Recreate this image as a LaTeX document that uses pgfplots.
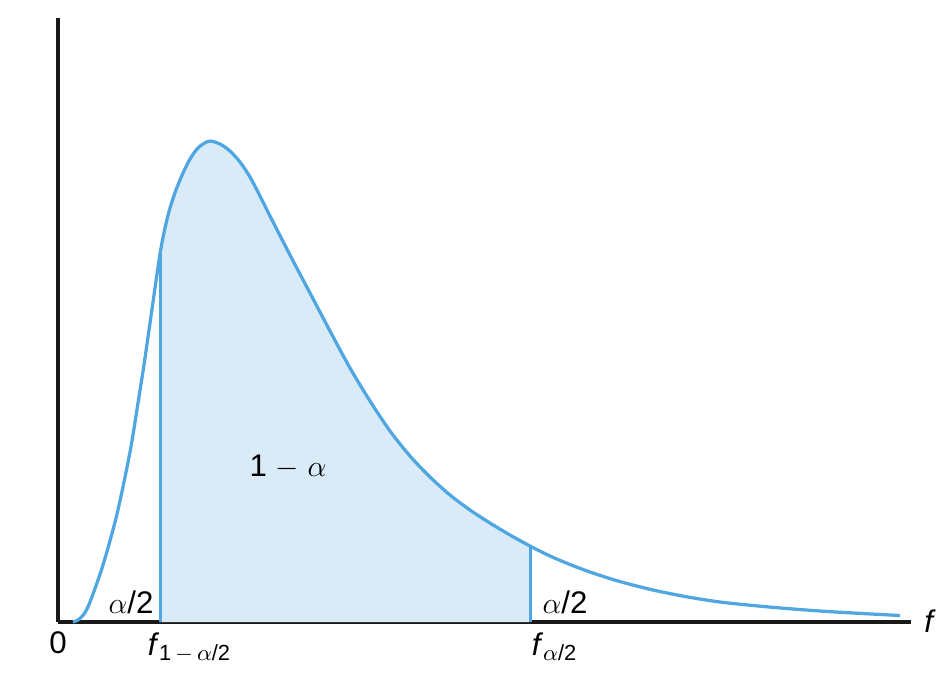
\documentclass[border=0pt]{standalone}
\usepackage{amsmath}
\usepackage{fontspec}
\setmainfont{Liberation Sans}
\usepackage{pgfplots}
\pgfplotsset{compat=1.18}
\usepgfplotslibrary{fillbetween}
\definecolor{curveblue}{HTML}{4FA6E0}
\definecolor{areablue}{HTML}{D9EBF7}

\pgfplotstableread{
x y
15 0
20 2
26 8
32 20
45 57
59 108
72 170
80 219
87 264
95 320
102 368
107 394
112 414
118 432
125 449
132 463
139 473
145 478
152 481
162 478
172 471
182 460
192 445
202 426
212 406
232 367
252 329
272 291
292 254
312 221
332 191
352 166
372 145
392 127
412 112
432 99
452 87
472 76
492 66
512 57.5
532 50
560 41
595 32
630 25
662 20
695 16.5
729 13.5
762 11
795 9
842 6.5
}\density

\begin{document}
\begin{tikzpicture}[x=0.4pt,y=0.4pt]
\begin{axis}[
  scale only axis,
  width=341.2pt,
  height=241.6pt,
  xmin=0, xmax=853,
  ymin=0, ymax=604,
  axis x line=bottom,
  axis y line=left,
  axis line style={line width=1.6pt,black!90,-},
  xtick=\empty, ytick=\empty,
  clip=false,
  font=\fontsize{12.5}{14}\selectfont,
]
% bounding box to match the reference proportions
\path (axis cs:-58,-54) rectangle (axis cs:892,622);

\path[name path=base] (axis cs:0,0) -- (axis cs:853,0);

% density curve, invisible copy for the fill
\addplot[draw=none, smooth, name path=curve] table {\density};
\addplot[areablue] fill between[of=curve and base, soft clip={domain=102:472}];

\addplot[curveblue, line width=1.3pt, smooth] table {\density};

% cut lines
\addplot[curveblue, line width=1.2pt] coordinates {(102,0) (102,368)};
\addplot[curveblue, line width=1.2pt] coordinates {(472,0) (472,76)};

\node at (axis cs:73,20) {\(\alpha\)/2};
\node at (axis cs:507,20) {\(\alpha\)/2};
\node at (axis cs:230,155) {1 \(-\) \(\alpha\)};
\node[anchor=base] at (axis cs:0,-31) {0};
\node[anchor=base west] at (axis cs:81,-33) {\textit{f}\(_{\text{1}\,-\,\alpha\text{/2}}\)};
\node[anchor=base west] at (axis cs:465,-33) {\textit{f}\(_{\alpha\text{/2}}\)};
\node[anchor=base] at (axis cs:872,-10) {\textit{f}};
\end{axis}
\end{tikzpicture}
\end{document}
